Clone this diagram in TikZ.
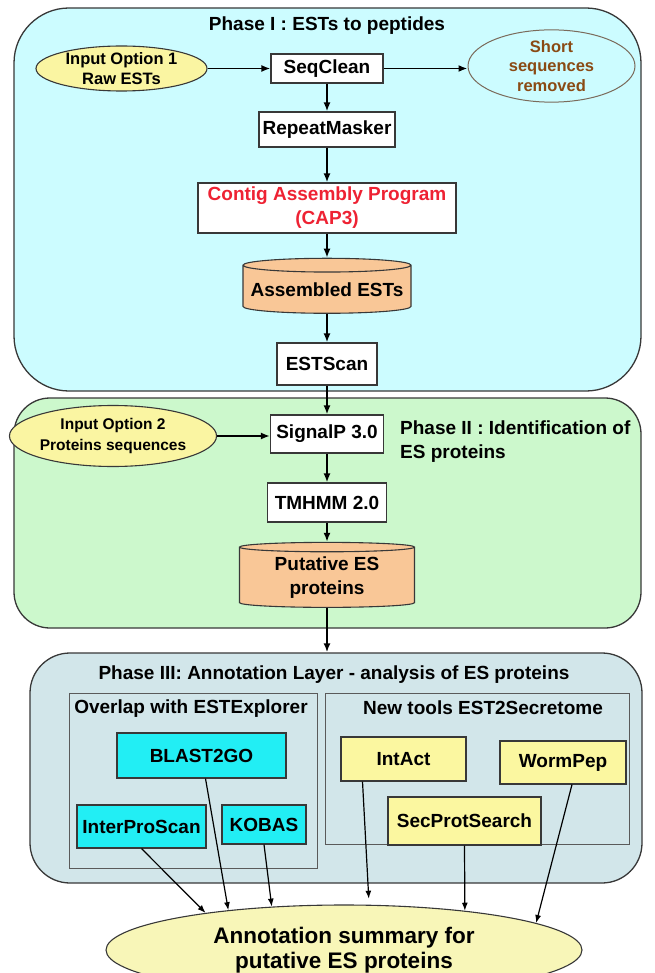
\documentclass[tikz,border=0pt]{standalone}
\usepackage{fontspec}
\setmainfont{Liberation Sans}
\usepackage{tikz}
\usetikzlibrary{positioning,shapes.geometric,arrows.meta}

\definecolor{edge}{HTML}{383838}
\definecolor{groupedge}{HTML}{5A5A5A}
\definecolor{phaseonefill}{HTML}{CCFCFF}
\definecolor{phasetwofill}{HTML}{CCF8CC}
\definecolor{phasethreefill}{HTML}{D2E6EA}
\definecolor{sourcefill}{HTML}{FAF5A2}
\definecolor{storefill}{HTML}{F9C797}
\definecolor{cyanfill}{HTML}{22EEF4}
\definecolor{yellowfill}{HTML}{FBF7A0}
\definecolor{summaryfill}{HTML}{F8F6B8}
\definecolor{captext}{HTML}{EE2233}
\definecolor{shorttext}{HTML}{8A4A14}
\definecolor{shortedge}{HTML}{7A6A5A}

\newcommand\boxfont{\fontsize{19}{24}\selectfont\bfseries}
\newcommand\smallboxfont{\fontsize{16.5}{19.5}\selectfont\bfseries}
\newcommand\bigboxfont{\fontsize{22.5}{25}\selectfont\bfseries}

\tikzset{
  phase/.style={draw=edge, line width=1.3pt, inner sep=0pt},
  group/.style={draw=groupedge, line width=0.9pt, inner sep=0pt},
  tool/.style={draw=edge, fill=white, line width=1.1pt, inner sep=0pt, font=\boxfont, align=center},
  colbox/.style={draw=edge, line width=1.1pt, inner sep=0pt, font=\boxfont},
  store/.style={cylinder, shape border rotate=90, aspect=0.09, draw=edge, fill=storefill,
    line width=1.1pt, inner sep=0pt, font=\boxfont, align=center},
  source/.style={ellipse, draw=edge, fill=sourcefill, line width=1.1pt, inner sep=0pt, align=center},
  heading/.style={font=\boxfont, inner sep=0pt},
  flow/.style={-{Latex[length=9pt,width=7pt]}, line width=1.8pt},
  feed/.style={-{Latex[length=8pt,width=6pt]}, line width=1.2pt}
}

\begin{document}
\begin{tikzpicture}[x=1pt,y=1pt,yscale=-1]
\path[use as bounding box] (0,0) rectangle (654,973);

%Phase I : ESTs to peptides
\node[phase, fill=phaseonefill, rounded corners=55pt, minimum width=627pt, minimum height=383pt] (phaseI) at (327.5,199.5) {};
\node[heading] (titleI) at (327,26) {Phase I : ESTs to peptides};

\node[source, minimum width=171pt, minimum height=45pt, font=\smallboxfont] (input1) at (121.5,68.5) {Input Option 1\\Raw ESTs};
\node[tool, minimum width=112pt, minimum height=29pt] (seqclean) at (327,68.5) {SeqClean};
\node[ellipse, draw=shortedge, line width=1pt, inner sep=0pt, minimum width=167pt, minimum height=66pt,
  font=\smallboxfont, text=shorttext, align=center] (short) at (551.5,66) {Short\\sequences\\removed};
\node[tool, minimum width=136pt, minimum height=35pt] (repeat) at (327,129.5) {RepeatMasker};
\node[tool, minimum width=258pt, minimum height=50pt, text=captext] (cap3) at (327,208) {Contig Assembly Program\\(CAP3)};
\node[store, minimum width=168pt, minimum height=55pt] (assembled) at (327,289.5) {Assembled ESTs};
\node[tool, minimum width=100pt, minimum height=42pt] (estscan) at (327,364) {ESTScan};

%Phase II : Identification of ES proteins
\node[phase, fill=phasetwofill, rounded corners=36pt, minimum width=627pt, minimum height=230pt] (phaseII) at (327.5,513) {};
\node[heading, anchor=west, align=left] (titleII) at (400,441.5) {Phase II : Identification of\\ES proteins};

\node[source, minimum width=198pt, minimum height=61pt, font=\fontsize{15.5}{21}\selectfont\bfseries] (input2) at (113,436) {Input Option 2\\Proteins sequences};
\node[tool, minimum width=113pt, minimum height=38pt] (signalp) at (327,434) {SignalP 3.0};
\node[tool, minimum width=119pt, minimum height=39pt] (tmhmm) at (327,502.5) {TMHMM 2.0};
\node[store, minimum width=175pt, minimum height=65pt] (putative) at (327,577.5) {Putative ES\\proteins};

%Phase III: Annotation Layer
\node[phase, fill=phasethreefill, rounded corners=40pt, minimum width=612pt, minimum height=230pt] (phaseIII) at (336,768) {};
\node[heading] (titleIII) at (334,675) {Phase III: Annotation Layer - analysis of ES proteins};

\node[group, minimum width=248pt, minimum height=175pt] (overlap) at (193,780.5) {};
\node[heading] (overlaptitle) at (191,709) {Overlap with ESTExplorer};
\node[group, minimum width=304pt, minimum height=151pt] (newtools) at (477,768.5) {};
\node[heading] (newtitle) at (483,708) {New tools EST2Secretome};

\node[colbox, fill=cyanfill, minimum width=169pt, minimum height=45pt] (blast) at (201.5,755.5) {BLAST2GO};
\node[colbox, fill=cyanfill, minimum width=129pt, minimum height=43pt] (ips) at (141.5,826.5) {InterProScan};
\node[colbox, fill=cyanfill, minimum width=84pt, minimum height=39pt] (kobas) at (264,824.5) {KOBAS};

\node[colbox, fill=yellowfill, minimum width=125pt, minimum height=44pt] (intact) at (403.5,759) {IntAct};
\node[colbox, fill=yellowfill, minimum width=126pt, minimum height=43pt] (wormpep) at (563,762.5) {WormPep};
\node[colbox, fill=yellowfill, minimum width=153pt, minimum height=48pt] (secprot) at (464.5,821) {SecProtSearch};

\node[ellipse, draw=edge, fill=summaryfill, line width=1.1pt, inner sep=0pt, minimum width=476pt, minimum height=90pt,
  font=\bigboxfont, align=center] (summary) at (344,950) {Annotation summary for\\putative ES proteins};

% arrows along the pipeline
\draw[flow] (input1.east) -- (seqclean.west |- input1.east);
\draw[flow] (seqclean.east) -- (short.west |- seqclean.east);
\draw[flow] (seqclean) -- (repeat);
\draw[flow] (repeat) -- (cap3);
\draw[flow] (cap3) -- (assembled);
\draw[flow] (assembled) -- (estscan);
\draw[flow] (estscan) -- (signalp);
\draw[flow] (input2.east) -- (signalp.west |- input2.east);
\draw[flow] (signalp) -- (tmhmm);
\draw[flow] (tmhmm) -- (putative);
\draw[flow] (putative.south) -- (putative.south |- phaseIII.north);

% arrows into the summary
\draw[feed] (ips.south) -- (summary.165.6);
\draw[feed] ([xshift=4pt]blast.south) -- (summary.161.3);
\draw[feed] (kobas.south) -- (summary.149.6);
\draw[feed, shorten >=6pt] ([xshift=-41pt]intact.south) -- (summary.61.8);
\draw[feed] (secprot.south) -- (summary.18.1);
\draw[feed] ([xshift=9pt]wormpep.south) -- (summary.8.2);

\end{tikzpicture}
\end{document}
